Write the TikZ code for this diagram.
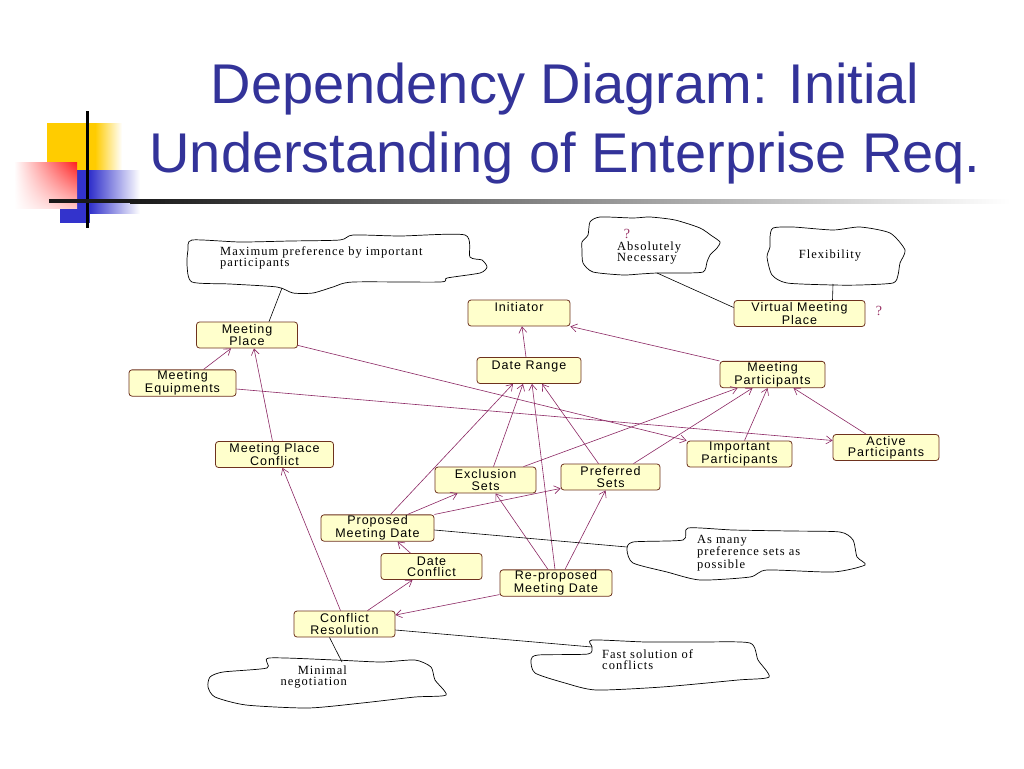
\documentclass[tikz,border=0pt]{standalone}
\usepackage{fontspec}
\setmainfont{Liberation Sans}
\newfontfamily\boxfont[LetterSpace=8]{Liberation Sans}
\newfontfamily\cloudfont[LetterSpace=8]{Liberation Serif}
\usetikzlibrary{arrows.meta,shadings}
\definecolor{titleblue}{RGB}{51,51,153}
\definecolor{boxfill}{RGB}{255,255,204}
\definecolor{boxline}{RGB}{110,50,30}
\definecolor{arrc}{RGB}{140,40,100}
\definecolor{qc}{RGB}{153,51,102}
\definecolor{decoyellow}{RGB}{255,204,0}
\definecolor{decoblue}{RGB}{51,51,204}
\definecolor{decored}{RGB}{255,30,30}
\begin{document}
\begin{tikzpicture}[x=1pt,y=-1pt,
 req/.style={draw=boxline, fill=boxfill, rounded corners=3pt, line width=0.8pt, minimum height=26pt, inner sep=1pt, align=center, font=\boxfont\fontsize{12.5}{11.2}\selectfont},
 arr/.style={draw=arrc, line width=0.6pt, -{Straight Barb[length=6pt,width=8pt]}},
 cl/.style={draw=black, line width=0.6pt},
 cloudshape/.style={draw=black, line width=0.7pt, fill=white},
 ctext/.style={font=\cloudfont\fontsize{12.5}{11}\selectfont, inner sep=0pt},
 qmark/.style={font=\cloudfont\fontsize{14}{14}\selectfont, text=qc, inner sep=0pt},
]
\useasboundingbox[fill=white] (0,0) rectangle (1024,768);

% ---- title decoration ----
\fill[decoyellow] (47,123) rectangle (95,170);
\shade[left color=decoyellow, right color=white] (95,123) rectangle (122,170);
\fill[decoblue] (60,170) rectangle (90,223);
\shade[left color=decoblue, right color=white] (90,170) rectangle (140,213);
\shade[upper left=white, upper right=decored, lower left=white, lower right=decored!25] (14,162) rectangle (77,208);
\fill[black] (85.5,111) rectangle (88.5,228);
\fill[black!90] (49,199) rectangle (130,203);
\shade[left color=black!90, right color=white] (130,199) rectangle (1010,203);

% ---- title ----
\node[anchor=base, font=\fontsize{56}{60}\selectfont, text=titleblue, inner sep=0pt] (t1) at (565,103) {Dependency Diagram: Initial};
\node[anchor=base, font=\fontsize{56}{60}\selectfont, text=titleblue, inner sep=0pt] (t2) at (565,172) {Understanding of Enterprise Req.};

% ---- clouds ----
\draw[cloudshape] plot[smooth cycle, tension=0.4] coordinates {(188,250) (192,240) (240,242) (290,241) (340,240) (353,235) (400,236) (465,235) (470,257) (482,260) (487,267) (480,273) (447,278) (440,282) (353,282) (333,287) (313,293) (293,293) (277,287) (230,284) (192,282) (187,265)};
\node[ctext, anchor=west, align=left] (c1t) at (220,257.5) {Maximum preference by important\\participants};
\coordinate (c1p) at (282,288);

\draw[cloudshape] plot[smooth cycle, tension=0.4] coordinates {(588,235) (590,222) (600,217) (633,218) (650,217) (675,220) (700,228) (712,236) (720,242) (717,248) (710,255) (707,262) (703,272) (677,273) (657,273) (640,274) (623,275) (593,272) (583,263) (582,250) (582,242)};
\node[qmark] (q1) at (627,234) {?};
\node[ctext, anchor=west, align=left] (c2t) at (617,253) {Absolutely\\Necessary};
\coordinate (c2p) at (657,273);

\draw[cloudshape] plot[smooth cycle, tension=0.4] coordinates {(770,237) (773,228) (793,227) (833,230) (860,227) (890,233) (905,250) (900,263) (898,275) (893,283) (860,285) (833,285) (787,283) (772,275) (767,257) (770,247)};
\node[ctext] (c3t) at (830,256) {Flexibility};
\coordinate (c3p) at (833,284);

\draw[cloudshape] plot[smooth cycle, tension=0.4] coordinates {(627,550) (633,542) (683,540) (688,528) (733,530) (790,531) (840,532) (853,540) (857,557) (865,565) (833,572) (767,570) (750,577) (700,580) (667,572) (633,563)};
\node[ctext, anchor=west, align=left] (c4t) at (697,553) {As many\\preference sets as\\possible};
\coordinate (c4p) at (627,547);

\draw[cloudshape] plot[smooth cycle, tension=0.4] coordinates {(592,647) (592,640) (646,642) (700,642) (750,643) (758,660) (769,677) (738,680) (662,687) (596,690) (565,683) (535,673) (531,660) (538,655) (588,654)};
\node[ctext, anchor=west, align=left] (c5t) at (602,660) {Fast solution of\\conflicts};
\coordinate (c5p) at (592,647);

\draw[cloudshape] plot[smooth cycle, tension=0.4] coordinates {(210,677) (223,672) (267,668) (269,658) (335,660) (381,662) (415,660) (431,667) (435,680) (446,695) (415,697) (362,703) (308,708) (246,705) (215,697) (208,687)};
\node[ctext, anchor=east, align=right] (c6t) at (347,677.5) {Minimal\\negotiation};
\coordinate (c6p) at (342,662);

% ---- requirement boxes ----
\node[req, minimum width=102pt] (init) at (519,313) {Initiator\\\phantom{I}};
\node[req, minimum width=104pt] (dr) at (529,370.5) {Date Range\\\phantom{I}};
\node[req, minimum width=101pt] (mp) at (247,335) {Meeting\\Place};
\node[req, minimum width=107pt] (me) at (182.5,383) {Meeting\\Equipments};
\node[req, minimum width=118pt] (mpc) at (274.5,454.5) {Meeting Place\\Conflict};
\node[req, minimum width=131pt] (vmp) at (799.5,313.5) {Virtual Meeting\\Place};
\node[qmark] (q2) at (879,311) {?};
\node[req, minimum width=105pt] (mpart) at (772.5,374.5) {Meeting\\Participants};
\node[req, minimum width=105pt] (ip) at (739.5,454) {Important\\Participants};
\node[req, minimum width=106pt] (ap) at (886,447.5) {Active\\Participants};
\node[req, minimum width=101pt] (es) at (485.5,480) {Exclusion\\Sets};
\node[req, minimum width=99pt] (ps) at (610.5,477) {Preferred\\Sets};
\node[req, minimum width=113pt] (pmd) at (377.5,528) {Proposed\\Meeting Date};
\node[req, minimum width=101pt] (dc) at (431.5,566.5) {Date\\Conflict};
\node[req, minimum width=112pt] (rmd) at (556,583) {Re-proposed\\Meeting Date};
\node[req, minimum width=101pt] (cr) at (344.5,624) {Conflict\\Resolution};

% ---- dependency arrows ----
\draw[arr] ([xshift=21pt]me.north) -- ([xshift=-16pt]mp.south);
\draw[arr] ([xshift=-2pt]mpc.north) -- ([xshift=7pt]mp.south);
\draw[arr] ([xshift=-4pt]cr.north) -- ([xshift=8pt]mpc.south);
\draw[arr] ([yshift=3pt]mp.south east) -- (ip.north west);
\draw[arr] ([yshift=-6pt]me.east) -- ([yshift=7pt]ap.west);
\draw[arr] ([xshift=-3pt]dr.north) -- ([xshift=3pt]init.south);
\draw[arr] (mpart.north west) -- (init.south east);
\draw[arr] ([xshift=13pt]pmd.north) -- ([xshift=-16pt]dr.south);
\draw[arr] ([xshift=8pt]es.north) -- ([xshift=-6pt]dr.south);
\draw[arr] ([xshift=-1pt]rmd.north) -- ([xshift=3pt]dr.south);
\draw[arr] ([xshift=-12pt]ps.north) -- ([xshift=13pt]dr.south);
\draw[arr] ([xshift=38pt]es.north) -- ([xshift=-35pt]mpart.south);
\draw[arr] ([xshift=23pt]ps.north) -- ([xshift=-20pt]mpart.south);
\draw[arr] ([xshift=5pt]ip.north) -- ([xshift=-5pt]mpart.south);
\draw[arr] ([xshift=-20pt]ap.north) -- ([xshift=21pt]mpart.south);
\draw[arr] ([xshift=30pt]pmd.north) -- ([xshift=-28pt]es.south);
\draw[arr] (pmd.north east) -- ([yshift=2pt]ps.south west);
\draw[arr] ([xshift=-21pt]dc.north) -- ([xshift=20pt]pmd.south);
\draw[arr] ([xshift=23pt]cr.north) -- ([xshift=-19pt]dc.south);
\draw[arr] ([yshift=2pt]rmd.south west) -- ([yshift=9pt]cr.east);
\draw[arr] ([xshift=-8pt]rmd.north) -- ([xshift=10pt]es.south);
\draw[arr] ([xshift=9pt]rmd.north) -- ([xshift=-5pt]ps.south);

% ---- links to soft goals ----
\draw[cl] ([xshift=22pt]mp.north) -- (c1p);
\draw[cl] ([yshift=6pt]vmp.west) -- (c2p);
\draw[cl] ([xshift=33pt]vmp.north) -- (c3p);
\draw[cl] ([yshift=-2pt]pmd.east) -- (c4p);
\draw[cl] ([yshift=-6pt]cr.east) -- (c5p);
\draw[cl] ([xshift=-15pt]cr.south) -- (c6p);
\end{tikzpicture}
\end{document}
